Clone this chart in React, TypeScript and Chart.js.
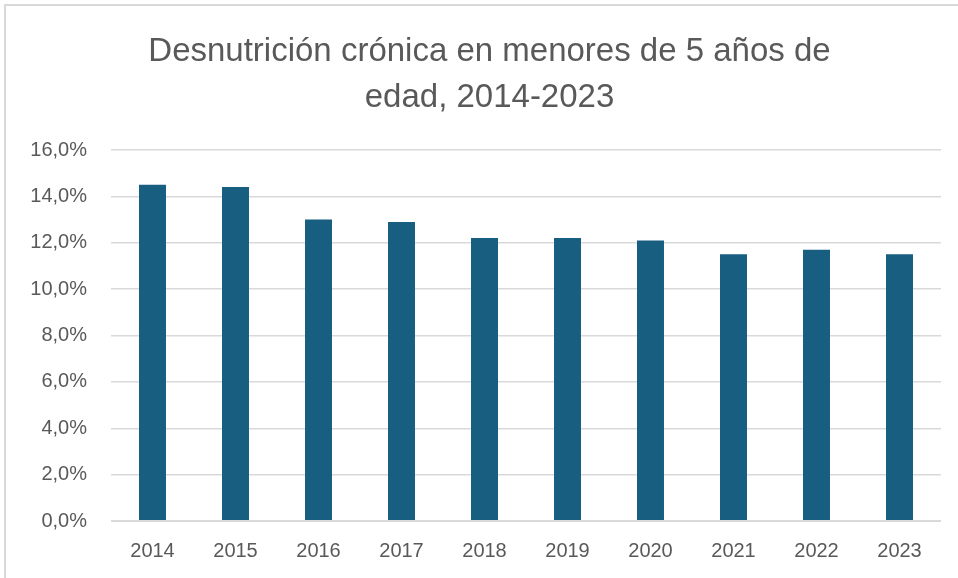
import React, { useEffect, useRef } from "react";
import { Chart, registerables } from "chart.js";

Chart.register(...registerables);

const TITLE_LINES = ["Desnutrición crónica en menores de 5 años de", "edad, 2014-2023"];
const YEARS = ["2014", "2015", "2016", "2017", "2018", "2019", "2020", "2021", "2022", "2023"];
const VALUES = [14.5, 14.4, 13.0, 12.9, 12.2, 12.2, 12.1, 11.5, 11.7, 11.5];
const Y_MIN = 0;
const Y_MAX = 16;
const Y_STEP = 2;

const TEXT = "#595959";
const GRID = "#D9D9D9";
const BAR = "#175E80";
const FONT = "'Liberation Sans', Arial, sans-serif";

const titlePlugin = {
  id: "customTitle",
  afterDraw(chart: any) {
    const ctx = chart.ctx;
    ctx.save();
    ctx.fillStyle = TEXT;
    ctx.font = `33px ${FONT}`;
    ctx.textAlign = "center";
    ctx.textBaseline = "alphabetic";
    const cx = 489.5;
    const baselines = [61, 107];
    TITLE_LINES.forEach((line, i) => ctx.fillText(line, cx, baselines[i]));
    ctx.restore();
  },
};

export default function App() {
  const ref = useRef<HTMLCanvasElement | null>(null);

  useEffect(() => {
    if (!ref.current) return;
    const chart = new Chart(ref.current, {
      type: "bar",
      data: {
        labels: YEARS,
        datasets: [
          {
            data: VALUES,
            backgroundColor: BAR,
            borderWidth: 0,
            categoryPercentage: 1,
            barPercentage: 0.325,
          },
        ],
      },
      options: {
        responsive: false,
        animation: false,
        devicePixelRatio: 1,
        layout: { padding: { left: 0, right: 17, top: 150, bottom: 0 } },
        plugins: {
          legend: { display: false },
          tooltip: { enabled: false },
          title: { display: false },
        },
        scales: {
          x: {
            grid: { display: false, drawTicks: false },
            border: { display: false },
            ticks: {
              color: TEXT,
              font: { family: FONT, size: 20 },
              padding: 18,
              maxRotation: 0,
            },
            afterFit: (s: any) => {
              s.height = 57;
            },
          },
          y: {
            min: Y_MIN,
            max: Y_MAX,
            grid: {
              color: GRID,
              lineWidth: (ctx: any) => (ctx.tick && ctx.tick.value === 0 ? 2 : 1.5),
              drawTicks: false,
            },
            border: { display: false },
            ticks: {
              stepSize: Y_STEP,
              color: TEXT,
              font: { family: FONT, size: 20 },
              padding: 24,
              callback: (v: any) => Number(v).toFixed(1).replace(".", ",") + "%",
            },
            afterFit: (s: any) => {
              s.width = 111;
            },
          },
        },
      },
      plugins: [titlePlugin],
    });
    return () => chart.destroy();
  }, []);

  return (
    <div style={{ position: "fixed", left: 0, top: 0, width: 958, height: 578, background: "#fff" }}>
      <div
        style={{
          position: "absolute",
          left: 4,
          top: 4,
          width: 960,
          height: 580,
          borderLeft: "2px solid #D9D9D9",
          borderTop: "2px solid #D9D9D9",
        }}
      />
      <canvas ref={ref} width={958} height={578} style={{ position: "absolute", left: 0, top: 0 }} />
    </div>
  );
}
